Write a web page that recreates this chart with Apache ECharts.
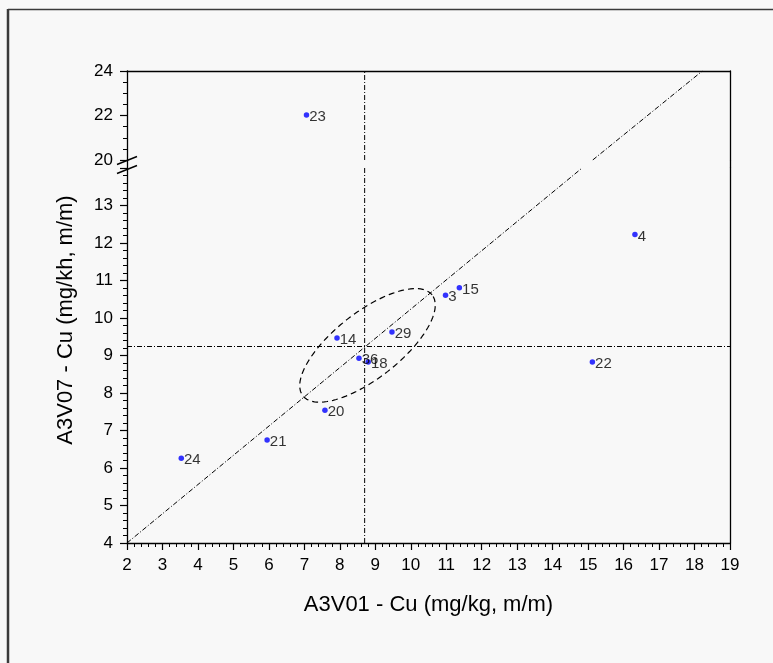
<!DOCTYPE html>
<html>
<head>
<meta charset="utf-8">
<script src="https://cdn.jsdelivr.net/npm/echarts@6/dist/echarts.min.js"></script>
<style>
html,body{margin:0;padding:0;background:#f8f8f8;}
#c{width:773px;height:663px;}
</style>
</head>
<body>
<div id="c"></div>
<script>
// ---- data ----
const labels   = ['23', '4', '15', '3', '22', '14', '29', '36', '18', '20', '21', '24'];
const xValues  = [7.06, 16.32, 11.37, 10.98, 15.12, 7.92, 9.47, 8.54, 8.80, 7.58, 5.95, 3.53];
const yValues  = [22.02, 12.23, 10.81, 10.61, 8.83, 9.47, 9.63, 8.93, 8.83, 7.54, 6.75, 6.26];
const xMedian = 8.70;
const yMedian = 9.24;
const diagLower = [[2, 4], [14.83, 14]];
const diagUpper = [[15.13, 20], [18.22, 24]];
const ellipseCenter = [8.78, 9.27];
const ellipseMajor = [1.823, 1.347];   // semi-axis vector (data units)
const ellipseMinor = [-0.573, 0.693];  // semi-axis vector (data units)
const xTicks = {min: 2, max: 19, interval: 1};
const yLowerTicks = {min: 4, max: 14, interval: 1};
const yUpperTicks = {min: 20, max: 24, interval: 2};
const xTitle = 'A3V01 - Cu (mg/kg, m/m)';
const yTitle = 'A3V07 - Cu (mg/kh, m/m)';

// ---- build ----
const lowerPts = [], upperPts = [];
for (let i = 0; i < labels.length; i++) {
  const p = {value: [xValues[i], yValues[i]], name: labels[i]};
  if (yValues[i] > yLowerTicks.max) upperPts.push(p); else lowerPts.push(p);
}
const ellipse = [];
for (let k = 0; k <= 120; k++) {
  const t = 2 * Math.PI * k / 120;
  ellipse.push([
    ellipseCenter[0] + Math.cos(t) * ellipseMajor[0] + Math.sin(t) * ellipseMinor[0],
    ellipseCenter[1] + Math.cos(t) * ellipseMajor[1] + Math.sin(t) * ellipseMinor[1]
  ]);
}

const FONT = 'Liberation Sans, Arial, sans-serif';
const dashDot = [5, 2, 1, 2];
const axisLineStyle = {color: '#000', width: 1.3};
const chart = echarts.init(document.getElementById('c'), null, {renderer: 'canvas'});

const scatterStyle = {
  type: 'scatter', symbol: 'circle', symbolSize: 5.5,
  itemStyle: {color: '#0000ff'},
  label: {show: true, position: 'right', distance: 0, formatter: '{b}',
          color: '#000', fontSize: 15, fontFamily: FONT, offset: [0, 2]},
  z: 5
};
const thinLine = (data, xi, yi, type) => ({
  type: 'line', data: data, xAxisIndex: xi, yAxisIndex: yi,
  symbol: 'none', silent: true, clip: true,
  lineStyle: {color: '#000', width: 1, type: type}, z: 3
});

const option = {
  backgroundColor: '#f8f8f8',
  animation: false,
  grid: [
    {left: 127, right: 43, top: 71, height: 89},
    {left: 127, right: 43, top: 168, bottom: 120}
  ],
  xAxis: [
    {gridIndex: 0, type: 'value', position: 'top', min: xTicks.min, max: xTicks.max, interval: xTicks.interval,
     axisLine: {show: true, lineStyle: axisLineStyle}, axisTick: {show: false}, axisLabel: {show: false},
     splitLine: {show: false}},
    {gridIndex: 1, type: 'value', position: 'bottom', min: xTicks.min, max: xTicks.max, interval: xTicks.interval,
     axisLine: {show: true, onZero: false, lineStyle: axisLineStyle},
     axisTick: {show: true, length: 7, lineStyle: {color: '#000', width: 1.2}},
     minorTick: {show: true, splitNumber: 5, length: 4, lineStyle: {color: '#000', width: 1}},
     axisLabel: {color: '#000', fontSize: 17, fontFamily: FONT, margin: 14},
     splitLine: {show: false},
     name: xTitle, nameLocation: 'middle', nameGap: 51,
     nameTextStyle: {color: '#000', fontSize: 22, fontFamily: FONT}}
  ],
  yAxis: [
    {gridIndex: 0, type: 'value', position: 'left', min: yUpperTicks.min, max: yUpperTicks.max, interval: yUpperTicks.interval,
     axisLine: {show: true, onZero: false, lineStyle: axisLineStyle},
     axisTick: {show: true, length: 7, lineStyle: {color: '#000', width: 1.2}},
     minorTick: {show: true, splitNumber: 4, length: 4, lineStyle: {color: '#000', width: 1}},
     axisLabel: {color: '#000', fontSize: 17, fontFamily: FONT, margin: 14},
     splitLine: {show: false}},
    {gridIndex: 0, type: 'value', position: 'right', min: yUpperTicks.min, max: yUpperTicks.max,
     axisLine: {show: true, onZero: false, lineStyle: axisLineStyle}, axisTick: {show: false},
     axisLabel: {show: false}, splitLine: {show: false}},
    {gridIndex: 1, type: 'value', position: 'left', min: yLowerTicks.min, max: yLowerTicks.max, interval: yLowerTicks.interval,
     axisLine: {show: true, onZero: false, lineStyle: axisLineStyle},
     axisTick: {show: true, length: 7, lineStyle: {color: '#000', width: 1.2}},
     minorTick: {show: true, splitNumber: 5, length: 4, lineStyle: {color: '#000', width: 1}},
     axisLabel: {color: '#000', fontSize: 17, fontFamily: FONT, margin: 14,
                 formatter: v => (v >= yLowerTicks.max ? '' : String(v))},
     splitLine: {show: false}},
    {gridIndex: 1, type: 'value', position: 'right', min: yLowerTicks.min, max: yLowerTicks.max,
     axisLine: {show: true, onZero: false, lineStyle: axisLineStyle}, axisTick: {show: false},
     axisLabel: {show: false}, splitLine: {show: false}}
  ],
  graphic: [
    // outer frame (top & left)
    {type: 'line', shape: {x1: 8, y1: 9.5, x2: 773, y2: 9.5}, style: {stroke: '#3a3a3a', lineWidth: 1.5}},
    {type: 'line', shape: {x1: 8, y1: 9, x2: 8, y2: 663}, style: {stroke: '#3a3a3a', lineWidth: 2.5}},
    // bridge the axis lines across the break
    {type: 'line', shape: {x1: 127.5, y1: 160, x2: 127.5, y2: 168}, style: {stroke: '#000', lineWidth: 1.3}},
    {type: 'line', shape: {x1: 730.5, y1: 160, x2: 730.5, y2: 168}, style: {stroke: '#000', lineWidth: 1.3}},
    // break marks
    {type: 'line', shape: {x1: 117, y1: 164.5, x2: 137, y2: 156.5}, style: {stroke: '#000', lineWidth: 1.5}, z: 10},
    {type: 'line', shape: {x1: 117, y1: 173.5, x2: 137, y2: 165.5}, style: {stroke: '#000', lineWidth: 1.5}, z: 10},
    // y axis title
    {type: 'text', x: 66, y: 320, rotation: Math.PI / 2,
     style: {text: yTitle, fill: '#000', fontSize: 22, fontFamily: FONT, align: 'center', verticalAlign: 'middle'}}
  ],
  series: [
    thinLine([[xTicks.min, yMedian], [xTicks.max, yMedian]], 1, 2, dashDot),
    thinLine([[xMedian, yLowerTicks.min], [xMedian, yLowerTicks.max]], 1, 2, dashDot),
    thinLine([[xMedian, yUpperTicks.min], [xMedian, yUpperTicks.max]], 0, 0, dashDot),
    thinLine(diagLower, 1, 2, dashDot),
    thinLine(diagUpper, 0, 0, dashDot),
    thinLine(ellipse, 1, 2, [6, 4]),
    Object.assign({}, scatterStyle, {data: lowerPts, xAxisIndex: 1, yAxisIndex: 2}),
    Object.assign({}, scatterStyle, {data: upperPts, xAxisIndex: 0, yAxisIndex: 0})
  ]
};
option.series[5].lineStyle.width = 1.2;
chart.setOption(option);
</script>
</body>
</html>
